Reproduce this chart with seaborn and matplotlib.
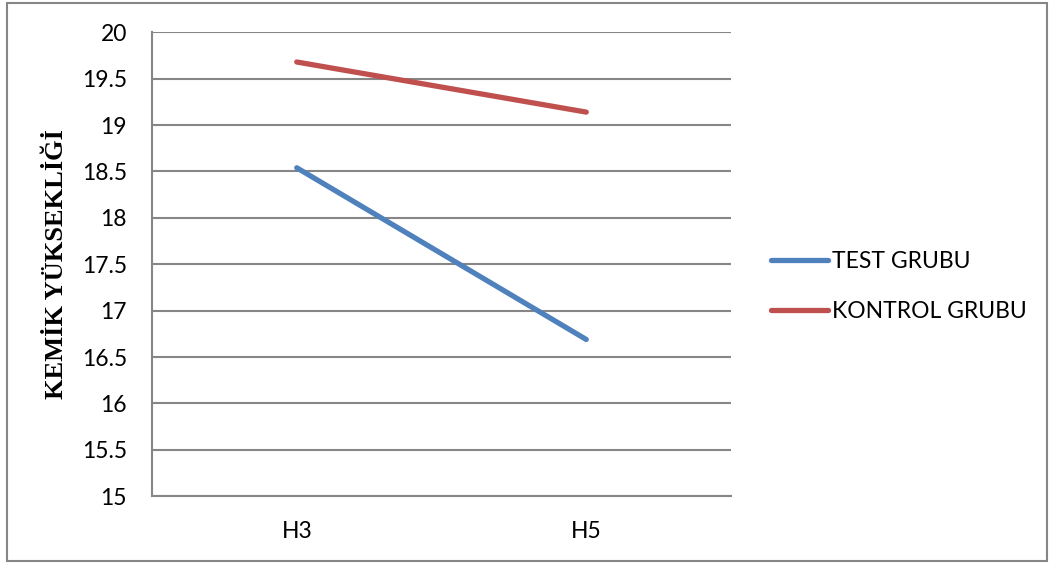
import matplotlib
matplotlib.use("Agg")
import matplotlib.pyplot as plt
from matplotlib.patches import Rectangle
import seaborn as sns
import pandas as pd

# Measurement times and group means
zamanlar = ["H3", "H5"]
test_grubu = [18.54, 16.69]
kontrol_grubu = [19.68, 19.14]
gruplar = ["TEST GRUBU", "KONTROL GRUBU"]
y_ticks = [15, 15.5, 16, 16.5, 17, 17.5, 18, 18.5, 19, 19.5, 20]

df = pd.DataFrame({
    "zaman": zamanlar * 2,
    "deger": test_grubu + kontrol_grubu,
    "grup": [gruplar[0]] * 2 + [gruplar[1]] * 2,
})

sns.set_theme(style="white")
plt.rcParams["font.family"] = ["Lato", "DejaVu Sans"]

W, H = 1051, 563
fig = plt.figure(figsize=(W / 100, H / 100), dpi=100)
ax = fig.add_axes([152 / W, 1 - 496.3 / H, (731 - 152) / W, (496.3 - 32.3) / H])

renkler = {"TEST GRUBU": "#4F81BD", "KONTROL GRUBU": "#C0504D"}
sns.lineplot(data=df, x="zaman", y="deger", hue="grup", palette=renkler,
             linewidth=3.8, ax=ax, legend=False, sort=False)
for ln in ax.lines:
    ln.set_solid_capstyle("round")

ax.set_xlim(-0.5, 1.5)
ax.set_ylim(15, 20)
ax.set_yticks(y_ticks)
ax.set_yticklabels([f"{t:g}" for t in y_ticks])
ax.yaxis.grid(True, color="#868686", linewidth=1.5)
ax.xaxis.grid(False)
for side in ["top", "right"]:
    ax.spines[side].set_visible(False)
for side in ["left", "bottom"]:
    ax.spines[side].set_color("#868686")
    ax.spines[side].set_linewidth(1.5)
ax.tick_params(axis="y", length=0, pad=18, labelsize=16.5, labelcolor="black")
ax.tick_params(axis="x", length=0, pad=18, labelsize=16.5, labelcolor="black")
ax.set_xlabel("")
ax.set_ylabel("KEMİK YÜKSEKLİĞİ", family=["Liberation Serif", "DejaVu Serif"],
              fontweight="bold", fontsize=19, color="black")
ax.yaxis.set_label_coords(-84 / (731 - 152), 0.5)

# Legend built from the drawn lines
handles = ax.lines[:2]
leg = fig.legend(handles, gruplar, loc="upper left",
                 bbox_to_anchor=(762 / W, 1 - 242 / H), frameon=False,
                 fontsize=16.5, handlelength=2.5, handletextpad=0.15,
                 labelspacing=1.25, borderaxespad=0)
for t in leg.get_texts():
    t.set_color("black")

# Chart frame
fig.patches.append(Rectangle((7 / W, 2 / H), (1047 - 7) / W, (560 - 2) / H,
                             transform=fig.transFigure, fill=False,
                             edgecolor="#868686", linewidth=1.5))

fig.savefig("out.png", dpi=100)
